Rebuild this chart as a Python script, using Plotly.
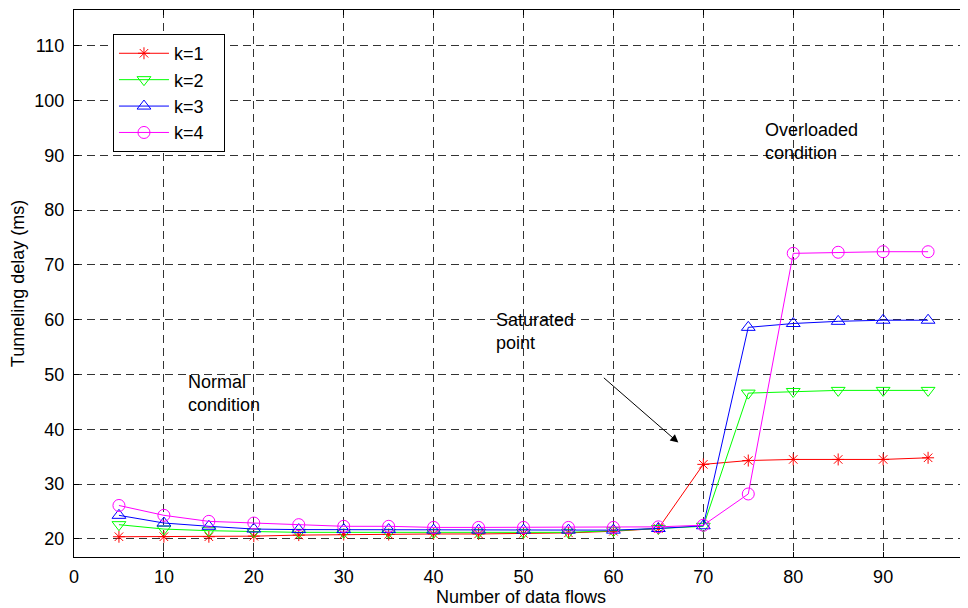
import plotly.graph_objects as go

flows = [5, 10, 15, 20, 25, 30, 35, 40, 45, 50, 55, 60, 65, 70, 75, 80, 85, 90, 95]
k1 = [20.4, 20.4, 20.4, 20.5, 20.7, 20.8, 20.8, 20.9, 20.9, 21.0, 21.1, 21.4, 21.9, 33.6, 34.3, 34.5, 34.5, 34.5, 34.8]
k2 = [22.6, 21.8, 21.5, 21.3, 21.2, 21.2, 21.2, 21.2, 21.2, 21.2, 21.2, 21.5, 21.9, 22.3, 46.6, 46.9, 47.1, 47.1, 47.1]
k3 = [24.3, 22.9, 22.3, 21.8, 21.7, 21.7, 21.7, 21.6, 21.6, 21.6, 21.6, 21.6, 21.9, 22.4, 58.6, 59.3, 59.7, 59.9, 59.9]
k4 = [26.1, 24.3, 23.2, 22.9, 22.6, 22.3, 22.3, 22.1, 22.1, 22.1, 22.1, 22.1, 22.2, 22.5, 28.2, 72.1, 72.3, 72.4, 72.4]

series_names = ["k=1", "k=2", "k=3", "k=4"]
series_vals = [k1, k2, k3, k4]
colors = ["#FF0000", "#00FF00", "#0000FF", "#FF00FF"]
symbols = ["asterisk-open", "triangle-down-open", "triangle-up-open", "circle-open"]
sizes = [10, 12, 12, 12]

x_ticks = [0, 10, 20, 30, 40, 50, 60, 70, 80, 90]
y_ticks = [20, 30, 40, 50, 60, 70, 80, 90, 100, 110]

FONT = "Liberation Sans, Arial, sans-serif"
FS = 18

fig = go.Figure()
for name, vals, c, s, sz in zip(series_names, series_vals, colors, symbols, sizes):
    fig.add_trace(go.Scatter(
        x=flows, y=vals, name=name + "\u00a0\u00a0\u00a0", mode="lines+markers",
        line=dict(color=c, width=1),
        marker=dict(symbol=s, size=sz, color=c, line=dict(color=c, width=1)),
    ))

annotations = [
    dict(x=12.46, y=46.55, text="Normal<br>condition", showarrow=False,
         xanchor="left", yanchor="middle", align="left"),
    dict(x=46.7, y=57.8, text="Saturated<br>point", showarrow=False,
         xanchor="left", yanchor="middle", align="left"),
    dict(x=76.6, y=92.45, text="Overloaded<br>condition", showarrow=False,
         xanchor="left", yanchor="middle", align="left"),
    dict(x=67.22, y=37.57, ax=58.77, ay=49.62, axref="x", ayref="y",
         text="", showarrow=True, arrowhead=2, arrowsize=1.6, arrowwidth=1,
         arrowcolor="black"),
]
for a in annotations:
    a.setdefault("font", dict(family=FONT, size=FS, color="black"))
    a["xref"] = "x"
    a["yref"] = "y"

# page has an 8px body margin, so margins are offset by 8px
fig.update_layout(
    width=968, height=608,
    margin=dict(l=66, r=8, t=2, b=59, autoexpand=False),
    paper_bgcolor="white", plot_bgcolor="white",
    font=dict(family=FONT, size=FS, color="black"),
    showlegend=True,
    legend=dict(x=0.0436, y=0.956, xanchor="left", yanchor="top",
                bgcolor="white", bordercolor="black", borderwidth=1,
                font=dict(family=FONT, size=FS, color="black"),
                tracegroupgap=0, itemwidth=50),
    annotations=annotations,
)
fig.update_xaxes(
    range=[0, 99.44], tickvals=x_ticks, ticktext=[str(v) for v in x_ticks],
    ticks="inside", ticklen=5, tickcolor="black", ticklabelstandoff=3,
    showline=True, linecolor="black", linewidth=1, mirror="ticks",
    showgrid=True, gridcolor="#333333", griddash="8px,5px", gridwidth=1,
    zeroline=False, automargin=False,
    title=dict(text="Number of data flows", font=dict(family=FONT, size=FS), standoff=4),
)
fig.update_yaxes(
    range=[16.7, 116.5], tickvals=y_ticks, ticktext=[str(v) for v in y_ticks],
    ticks="inside", ticklen=5, tickcolor="black", ticklabelstandoff=5,
    showline=True, linecolor="black", linewidth=1, mirror=False,
    showgrid=True, gridcolor="#333333", griddash="8px,5px", gridwidth=1,
    zeroline=False, automargin=False,
    title=dict(text="Tunneling delay (ms)", font=dict(family=FONT, size=FS), standoff=10),
)

fig.write_html("out.html")
